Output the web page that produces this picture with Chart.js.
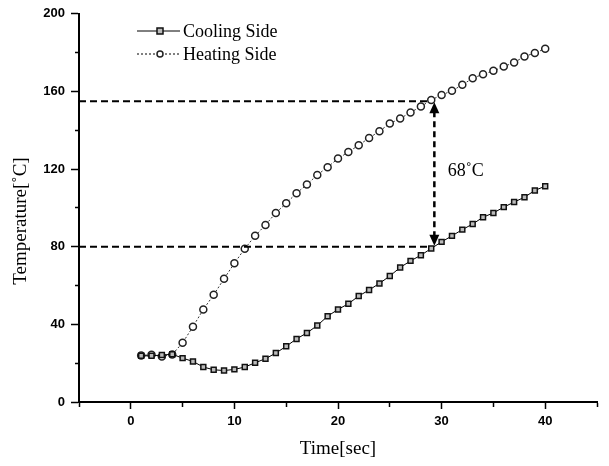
<!DOCTYPE html>
<html>
<head>
<meta charset="utf-8">
<script src="https://cdn.jsdelivr.net/npm/chart.js@4.4.0/dist/chart.umd.min.js"></script>
<style>
  html, body { margin: 0; padding: 0; background: #fff; }
  canvas { display: block; }
</style>
</head>
<body>
<canvas id="tempChart" width="609" height="466"></canvas>
<script>
// time in seconds
const times = [1, 2, 3, 4, 5, 6, 7, 8, 9, 10, 11, 12, 13, 14, 15, 16, 17, 18, 19, 20,
               21, 22, 23, 24, 25, 26, 27, 28, 29, 30, 31, 32, 33, 34, 35, 36, 37, 38, 39, 40];
const coolingSide = [23.8, 23.8, 24.2, 24.6, 22.6, 20.9, 18, 16.6, 16.2, 16.8,
                     18, 20.2, 22.3, 25.2, 28.7, 32.5, 35.6, 39.4, 44.2, 47.7,
                     50.6, 54.6, 57.7, 61.1, 64.9, 69.3, 72.7, 75.6, 79.1, 82.5,
                     85.6, 88.8, 91.7, 95.2, 97.4, 100.4, 103, 105.5, 109, 111.2];
const heatingSide = [24, 24.3, 23.5, 24.5, 30.5, 38.8, 47.7, 55.2, 63.5, 71.5,
                     79, 85.6, 91.2, 97.4, 102.4, 107.6, 112, 117, 121, 125.4,
                     128.8, 132.3, 136, 139.5, 143.5, 146, 149.2, 152.2, 155.6, 158.2,
                     160.3, 163.4, 166.8, 168.9, 170.6, 172.8, 174.9, 178, 179.8, 182];
const seriesNames = ['Cooling Side', 'Heating Side'];
const yTitle = 'Temperature[˚C]';

// guide lines marking the temperature gap
const guideTemps = [155, 80];
const guideTime = 29.3;
const gapLabel = '68˚C';
const gapLabelPos = [30.6, 119];

const serif = 'Liberation Serif, Times New Roman, serif';
const sans = 'Liberation Sans, Arial, sans-serif';

const guidePlugin = {
    id: 'guides',
    afterDatasetsDraw(chart) {
        const ctx = chart.ctx;
        const xs = chart.scales.x, ys = chart.scales.y;
        const xEnd = xs.getPixelForValue(guideTime);
        ctx.save();
        ctx.strokeStyle = '#000';
        ctx.lineWidth = 2;
        ctx.setLineDash([7, 4]);
        guideTemps.forEach(function(t) {
            const y = ys.getPixelForValue(t);
            ctx.beginPath();
            ctx.moveTo(xs.left, y);
            ctx.lineTo(xEnd - 4, y);
            ctx.stroke();
        });
        const yTop = ys.getPixelForValue(guideTemps[0]);
        const yBot = ys.getPixelForValue(guideTemps[1]);
        ctx.lineWidth = 2.5;
        ctx.setLineDash([6, 4]);
        ctx.beginPath();
        ctx.moveTo(xEnd, yTop + 10);
        ctx.lineTo(xEnd, yBot - 10);
        ctx.stroke();
        ctx.setLineDash([]);
        ctx.fillStyle = '#000';
        ctx.beginPath();
        ctx.moveTo(xEnd, yTop + 1);
        ctx.lineTo(xEnd - 5, yTop + 12);
        ctx.lineTo(xEnd + 5, yTop + 12);
        ctx.closePath();
        ctx.fill();
        ctx.beginPath();
        ctx.moveTo(xEnd, yBot - 1);
        ctx.lineTo(xEnd - 5, yBot - 12);
        ctx.lineTo(xEnd + 5, yBot - 12);
        ctx.closePath();
        ctx.fill();

        ctx.font = '18px ' + serif;
        ctx.textBaseline = 'middle';
        ctx.textAlign = 'left';
        ctx.fillText(gapLabel, xs.getPixelForValue(gapLabelPos[0]), ys.getPixelForValue(gapLabelPos[1]));
        ctx.restore();
    }
};

const legendPlugin = {
    id: 'sideLegend',
    afterDraw(chart) {
        const ctx = chart.ctx;
        ctx.save();
        chart.data.datasets.forEach(function(ds, i) {
            const y = 31 + i * 23;
            ctx.strokeStyle = '#000';
            ctx.lineWidth = 1;
            ctx.setLineDash(ds.borderDash || []);
            ctx.beginPath();
            ctx.moveTo(137, y);
            ctx.lineTo(180, y);
            ctx.stroke();
            ctx.setLineDash([]);
            ctx.lineWidth = 1.5;
            ctx.strokeStyle = ds.pointBorderColor;
            ctx.fillStyle = ds.pointBackgroundColor;
            ctx.beginPath();
            if (ds.pointStyle === 'rect') {
                ctx.rect(157, y - 3, 6, 6);
            } else {
                ctx.arc(160, y, 3, 0, Math.PI * 2);
            }
            ctx.fill();
            ctx.stroke();
            ctx.fillStyle = '#000';
            ctx.font = '18px ' + serif;
            ctx.textBaseline = 'middle';
            ctx.fillText(ds.label, 183, y + 1);
        });

        // y title, sits a little below the axis middle in the original
        ctx.translate(21, 221);
        ctx.rotate(-Math.PI / 2);
        ctx.font = '19px ' + serif;
        ctx.textAlign = 'center';
        ctx.textBaseline = 'middle';
        ctx.fillText(yTitle, 0, 0);
        ctx.restore();
    }
};

// short ticks for unlabelled positions
function tickDash(every, pattern) {
    return function(c) {
        if (!c.tick) return [];
        return c.tick.value % every === 0 && c.tick.label !== '' ? [] : pattern;
    };
}

document.addEventListener('DOMContentLoaded', function() {
    const data = {
        datasets: [{
            label: seriesNames[0],
            data: times.map(function(t, i) { return { x: t, y: coolingSide[i] }; }),
            borderColor: '#000',
            borderWidth: 1,
            pointStyle: 'rect',
            pointRadius: 3.5,
            pointBorderWidth: 1.5,
            pointBorderColor: '#111',
            pointBackgroundColor: '#bbb'
        }, {
            label: seriesNames[1],
            data: times.map(function(t, i) { return { x: t, y: heatingSide[i] }; }),
            borderColor: '#333',
            borderWidth: 1,
            borderDash: [2, 2],
            pointStyle: 'circle',
            pointRadius: 3.5,
            pointBorderWidth: 1.5,
            pointBorderColor: '#222',
            pointBackgroundColor: '#fff'
        }]
    };

    const config = {
        type: 'line',
        data: data,
        options: {
            responsive: false,
            animation: false,
            layout: { padding: { top: 13, right: 12, left: 0, bottom: 0 } },
            plugins: {
                legend: { display: false },
                tooltip: { enabled: false }
            },
            scales: {
                x: {
                    type: 'linear',
                    min: -5,
                    max: 45,
                    border: { display: true, color: '#000', width: 2 },
                    grid: {
                        drawOnChartArea: false, drawTicks: true, tickLength: 7,
                        tickColor: '#000', tickWidth: 1.5, tickBorderDash: tickDash(10, [4, 100])
                    },
                    ticks: {
                        stepSize: 5,
                        padding: 5,
                        color: '#000',
                        maxRotation: 0,
                        autoSkip: false,
                        font: { family: sans, size: 13, weight: 'bold' },
                        callback: function(v) { return (v % 10 === 0 && v >= 0 && v <= 40) ? v : ''; }
                    },
                    title: {
                        display: true,
                        text: 'Time[sec]',
                        color: '#000',
                        font: { family: serif, size: 19 },
                        padding: { top: 0, bottom: 6 }
                    },
                    afterFit: function(scale) { scale.height = 64; }
                },
                y: {
                    min: 0,
                    max: 200,
                    border: { display: true, color: '#000', width: 2 },
                    grid: {
                        drawOnChartArea: false, drawTicks: true, tickLength: 8,
                        tickColor: '#000', tickWidth: 1.5, tickBorderDash: tickDash(40, [0, 4, 5, 100])
                    },
                    ticks: {
                        stepSize: 20,
                        padding: 6,
                        color: '#000',
                        autoSkip: false,
                        font: { family: sans, size: 13, weight: 'bold' },
                        callback: function(v) { return v % 40 === 0 ? v : ''; }
                    },
                    title: { display: false },
                    afterFit: function(scale) { scale.width = 79; }
                }
            }
        },
        plugins: [guidePlugin, legendPlugin]
    };

    const tempChart = new Chart(document.getElementById('tempChart'), config);
});
</script>
</body>
</html>
